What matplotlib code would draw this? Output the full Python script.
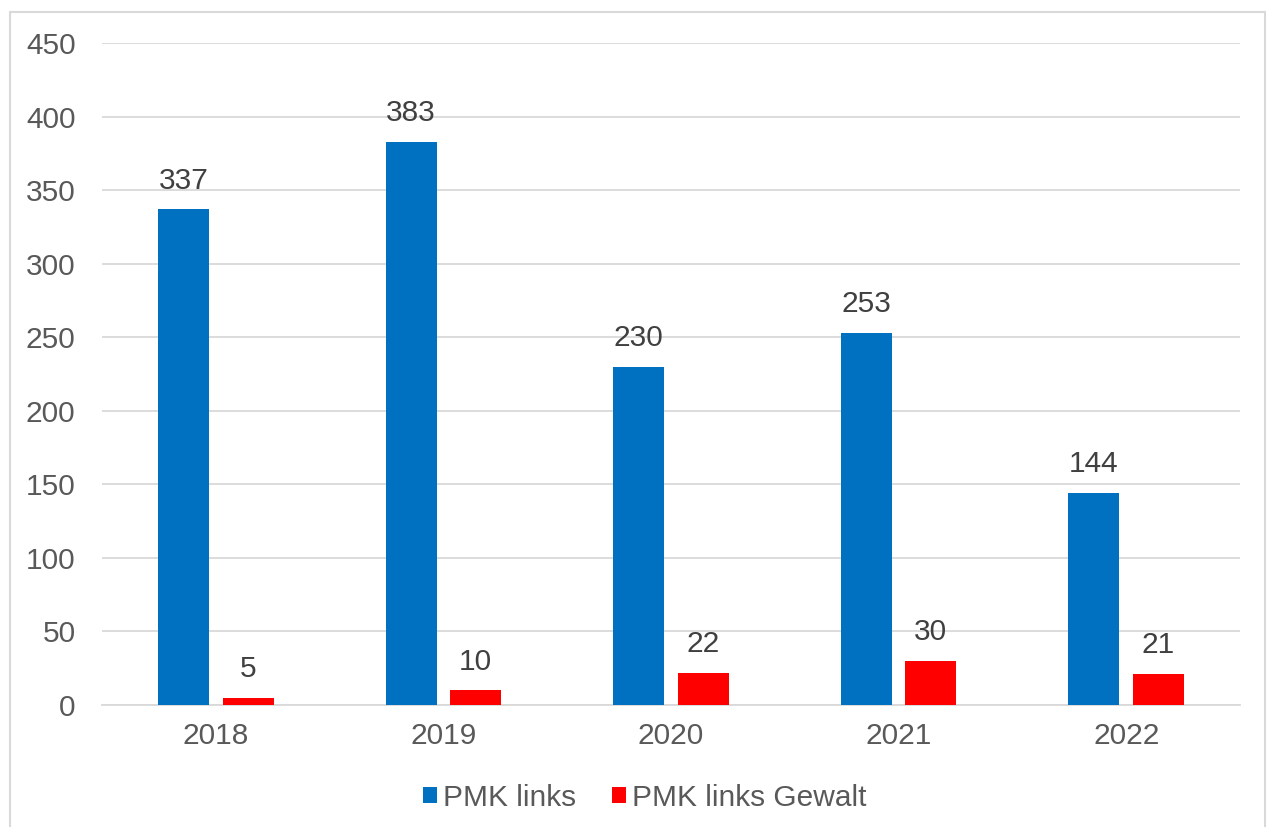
import numpy as np
import matplotlib.pyplot as plt
from matplotlib.patches import Rectangle

years = ["2018", "2019", "2020", "2021", "2022"]
pmk_links = [337, 383, 230, 253, 144]
pmk_gewalt = [5, 10, 22, 30, 21]

BLUE = "#0070c0"
RED = "#ff0000"
FS = 21.5

plt.rcParams['font.family'] = ['Liberation Sans', 'DejaVu Sans']

W, H = 1269, 827
fig = plt.figure(figsize=(W / 100, H / 100), dpi=100)
ax = fig.add_axes([102 / W, 1 - 705 / H, 1138 / W, (705 - 43) / H])

# outer chart frame
fig.patches.append(Rectangle((10 / W, -0.01), 1255 / W, 1 - 12 / H + 0.01,
                             transform=fig.transFigure, fill=False,
                             edgecolor="#d9d9d9", linewidth=1.5))

x = np.arange(len(years))
bw = 0.224
gap = 0.06
off = (bw + gap) / 2
b1 = ax.bar(x - off, pmk_links, bw, color=BLUE, label="PMK links", zorder=3)
b2 = ax.bar(x + off, pmk_gewalt, bw, color=RED, label="PMK links Gewalt", zorder=3)

for bars in (b1, b2):
    for r in bars:
        ax.text(r.get_x() + r.get_width() / 2, r.get_height() + 10,
                f"{int(r.get_height())}", ha="center", va="bottom",
                fontsize=FS, color="#404040")

ax.set_xlim(-0.5, len(years) - 0.5)
ax.set_ylim(0, 450)
ax.set_yticks(range(0, 451, 50))
ax.set_xticks(x)
ax.set_xticklabels(years)
ax.tick_params(axis="both", length=0, labelsize=FS, labelcolor="#595959")
ax.tick_params(axis="y", pad=19)
ax.tick_params(axis="x", pad=12)
ax.grid(axis="y", color="#d9d9d9", linewidth=1.3, zorder=0)
for s in ["top", "right", "left"]:
    ax.spines[s].set_visible(False)
ax.spines["bottom"].set_color("#d9d9d9")
ax.spines["bottom"].set_linewidth(1.3)

ax.legend(loc="center", bbox_to_anchor=(0.477, -0.14), ncol=2, frameon=False,
          fontsize=FS, labelcolor="#595959", handlelength=0.47, handleheight=0.47,
          handletextpad=0.2, columnspacing=1.2)

fig.savefig("out.png", dpi=100)
